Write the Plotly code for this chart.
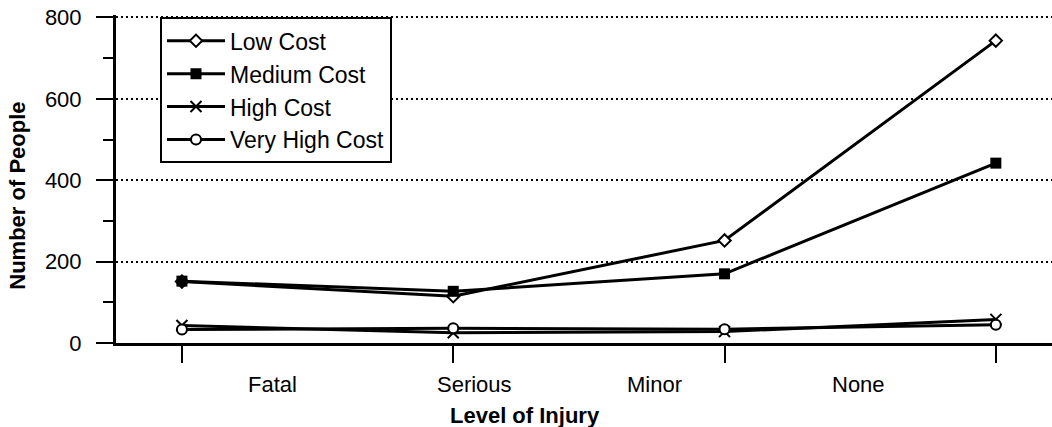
import plotly.graph_objects as go

# ---- data ----
categories = ["Fatal", "Serious", "Minor", "None"]
series_names = ["Low Cost", "Medium Cost", "High Cost", "Very High Cost"]
low_cost = [151, 115, 252, 743]
medium_cost = [152, 127, 170, 442]
high_cost = [43, 25, 28, 58]
very_high_cost = [33, 36, 34, 45]
y_ticks = [0, 200, 400, 600, 800]
x_title = "Level of Injury"
y_title = "Number of People"

# ---- layout / styling ----
label_offsets = [0.332, 1.08, 1.743, 2.495]  # where category names sit (category units)
FONT = "Liberation Sans, Arial, Helvetica, sans-serif"
BLACK = "#000000"

marker_styles = [
    dict(symbol="diamond", size=9.5, color="white", line=dict(color=BLACK, width=2)),
    dict(symbol="square", size=11, color=BLACK, line=dict(color=BLACK, width=0)),
    dict(symbol="x-thin", size=11, color=BLACK, line=dict(color=BLACK, width=2)),
    dict(symbol="circle", size=10, color="white", line=dict(color=BLACK, width=2)),
]
values = [low_cost, medium_cost, high_cost, very_high_cost]

fig = go.Figure()
for name, vals, mk in zip(series_names, values, marker_styles):
    fig.add_trace(go.Scatter(
        x=categories, y=vals, name=name, mode="lines+markers",
        line=dict(color=BLACK, width=3), marker=mk,
    ))

annotations = []
for cat, pos in zip(categories, label_offsets):
    annotations.append(dict(
        x=pos, y=0, xref="x", yref="paper", text=cat, showarrow=False,
        xanchor="center", yanchor="top", yshift=-27,
        font=dict(family=FONT, size=22, color=BLACK),
    ))
annotations.append(dict(
    x=0.437, y=0, xref="paper", yref="paper", text="<b>" + x_title + "</b>",
    showarrow=False, xanchor="center", yanchor="middle", yshift=-72,
    font=dict(family=FONT, size=22, color=BLACK),
))
annotations.append(dict(
    x=-0.1047, y=0.449, xref="paper", yref="paper", text="<b>" + y_title + "</b>",
    showarrow=False, xanchor="center", yanchor="middle", textangle=-90,
    font=dict(family=FONT, size=22, color=BLACK),
))

fig.update_layout(
    template="none",
    width=1052, height=427,
    margin=dict(l=116, r=0, t=15, b=84, autoexpand=False),
    plot_bgcolor="white", paper_bgcolor="white",
    font=dict(family=FONT, size=22, color=BLACK),
    showlegend=True,
    legend=dict(
        x=0.047, y=0.993, xanchor="left", yanchor="top",
        bgcolor="white", bordercolor=BLACK, borderwidth=2,
        font=dict(family=FONT, size=23, color=BLACK),
        itemwidth=58, tracegroupgap=0,
    ),
    annotations=annotations,
    xaxis=dict(
        type="category", range=[-0.243, 3.207], automargin=False,
        showline=True, linecolor=BLACK, linewidth=3,
        ticks="outside", ticklen=17, tickwidth=2, tickcolor=BLACK,
        showticklabels=False, showgrid=False, zeroline=False,
    ),
    yaxis=dict(
        range=[0, 806], tickmode="array", tickvals=y_ticks, automargin=False,
        showgrid=True, gridcolor=BLACK, gridwidth=1.5, griddash="2px,3px",
        showline=True, linecolor=BLACK, linewidth=3,
        ticks="outside", ticklen=17, tickwidth=2, tickcolor=BLACK,
        minor=dict(ticks="outside", dtick=100, ticklen=10, tickwidth=2, tickcolor=BLACK, showgrid=False),
        tickfont=dict(family=FONT, size=22, color=BLACK),
        ticklabelstandoff=10, zeroline=False,
    ),
)

fig.write_html(
    "out.html",
    config={"displayModeBar": False},
    post_script="document.body.style.margin='0';document.body.style.padding='0';",
)
